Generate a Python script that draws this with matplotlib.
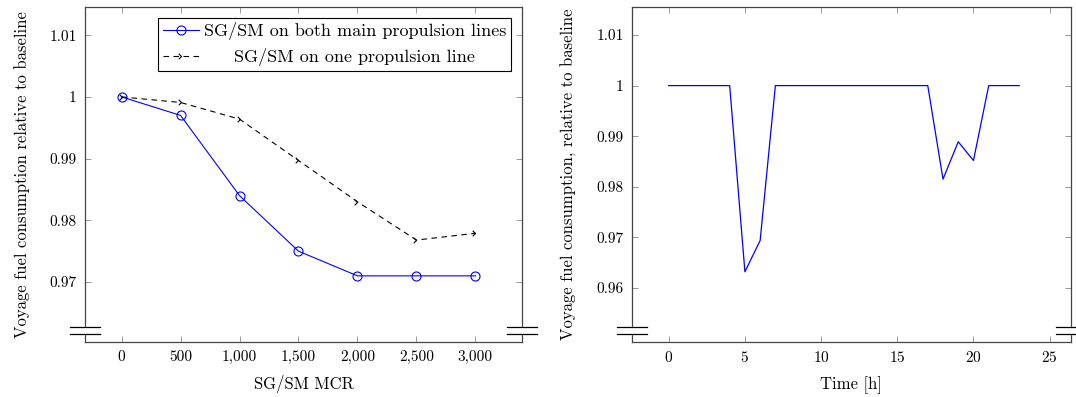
import numpy as np
import matplotlib
matplotlib.use('Agg')
import matplotlib.pyplot as plt
from matplotlib.path import Path

plt.rcParams['font.family'] = ['cmr10', 'DejaVu Serif']
plt.rcParams['axes.formatter.use_mathtext'] = True
plt.rcParams['font.size'] = 11

# left panel data
mcr = [0, 500, 1000, 1500, 2000, 2500, 3000]
mcr_labels = ['0', '500', '1,000', '1,500', '2,000', '2,500', '3,000']
both_lines = [1.000, 0.997, 0.984, 0.975, 0.971, 0.971, 0.971]
one_line = [1.000, 0.9991, 0.9964, 0.9897, 0.9830, 0.9768, 0.9779]
left_yticks = [0.97, 0.98, 0.99, 1.00, 1.01]
left_ylabels = ['0.97', '0.98', '0.99', '1', '1.01']

# right panel data
hours = list(range(24))
hourly = [1.0, 1.0, 1.0, 1.0, 1.0, 0.9632, 0.9694, 1.0, 1.0, 1.0, 1.0, 1.0,
          1.0, 1.0, 1.0, 1.0, 1.0, 1.0, 0.9815, 0.9889, 0.9852, 1.0, 1.0, 1.0]
hour_ticks = [0, 5, 10, 15, 20, 25]
right_yticks = [0.96, 0.97, 0.98, 0.99, 1.00, 1.01]
right_ylabels = ['0.96', '0.97', '0.98', '0.99', '1', '1.01']

W, H = 1076, 397
fig = plt.figure(figsize=(W / 100, H / 100), dpi=100)
ax1 = fig.add_axes([85 / W, 1 - 342 / H, 437 / W, 335 / H])
ax2 = fig.add_axes([632 / W, 1 - 342 / H, 439 / W, 335 / H])

axis_col = '#444444'


def style_axis(ax):
    for s in ax.spines.values():
        s.set_color(axis_col)
        s.set_linewidth(0.9)
    ax.tick_params(direction='in', length=4, width=0.6, color='#888888',
                   top=True, right=True, labelsize=11, pad=6)


def add_break(ax, ww):
    # y-axis discontinuity marks near the bottom
    dx = 15 / ww
    y_hi, y_lo = 15.5 / 335, 7.7 / 335
    for xs in (0, 1):
        ax.add_patch(plt.Rectangle((xs - 0.01, y_lo), 0.02, y_hi - y_lo,
                                   transform=ax.transAxes, color='white',
                                   clip_on=False, zorder=5))
        for yy in (y_hi, y_lo):
            ax.plot([xs - dx, xs + dx], [yy, yy], transform=ax.transAxes,
                    color='black', lw=0.9, clip_on=False, zorder=6)


style_axis(ax1)
style_axis(ax2)

arrow = Path([(-1, 1), (0, 0), (-1, -1)], [Path.MOVETO, Path.LINETO, Path.LINETO])

ax1.plot(mcr, both_lines, color='blue', lw=0.8, marker='o', ms=6.5,
         mfc='none', mec='blue', mew=0.8, label='SG/SM on both main propulsion lines')
# leading spaces roughly centre the shorter legend entry, as in the original
ax1.plot(mcr, one_line, color='black', lw=0.8, ls=(0, (5, 4)), marker=arrow,
         ms=4, mfc='none', mec='black', mew=0.8,
         label='     SG/SM on one propulsion line')
ax1.set_xlim(-310, 3395)
ax1.set_ylim(0.96028, 1.01457)
ax1.set_xticks(mcr)
ax1.set_xticklabels(mcr_labels)
ax1.set_yticks(left_yticks)
ax1.set_yticklabels(left_ylabels)
ax1.set_xlabel('SG/SM MCR', fontsize=12, labelpad=8)
ax1.set_ylabel('Voyage fuel consumption relative to baseline', fontsize=12, labelpad=14)
leg = ax1.legend(loc='upper right', bbox_to_anchor=(0.975, 0.968), fancybox=False,
                 edgecolor='black', framealpha=1, fontsize=13, borderpad=0.25,
                 handlelength=2, handletextpad=0.3, labelspacing=0.45,
                 borderaxespad=0)
leg.get_frame().set_linewidth(0.8)
add_break(ax1, 437)

ax2.plot(hours, hourly, color='blue', lw=0.9)
ax2.set_xlim(-2.41, 26.4)
ax2.set_ylim(0.94933, 1.01553)
ax2.set_xticks(hour_ticks)
ax2.set_yticks(right_yticks)
ax2.set_yticklabels(right_ylabels)
ax2.set_xlabel('Time [h]', fontsize=12, labelpad=8)
ax2.set_ylabel('Voyage fuel consumption, relative to baseline', fontsize=12, labelpad=14)
add_break(ax2, 439)

fig.savefig('out.png', dpi=100)
